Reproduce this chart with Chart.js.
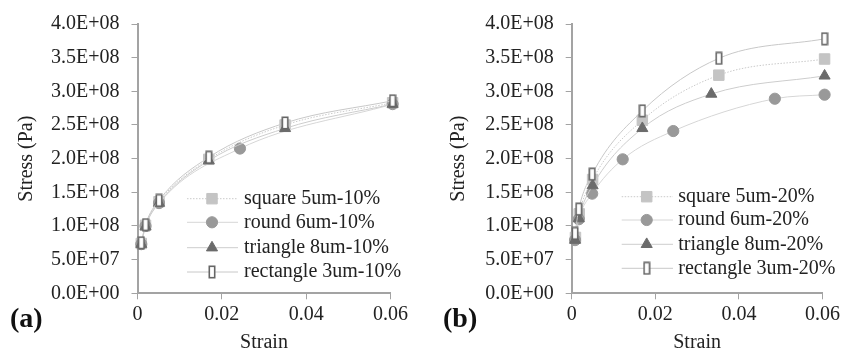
<!DOCTYPE html>
<html>
<head>
<meta charset="utf-8">
<script src="https://cdn.jsdelivr.net/npm/chart.js@4.4.1/dist/chart.umd.min.js"></script>
<style>
  html, body { margin: 0; padding: 0; background: #fff; }
  .panel { position: absolute; top: 0; }
</style>
</head>
<body>
<div class="panel" style="left:0;width:420px;height:356px"><canvas id="chartA" width="420" height="356"></canvas></div>
<div class="panel" style="left:420px;width:423px;height:356px"><canvas id="chartB" width="423" height="356"></canvas></div>
<script>
Chart.defaults.font.family = "'Liberation Serif', 'Times New Roman', serif";
Chart.defaults.font.size = 20;
Chart.defaults.color = '#222';

const X_TICKS = [0, 0.02, 0.04, 0.06];
const X_TICK_LABELS = ['0', '0.02', '0.04', '0.06'];
const Y_TICKS = [0, 5e7, 1e8, 1.5e8, 2e8, 2.5e8, 3e8, 3.5e8, 4e8];
const Y_TICK_LABELS = ['0.0E+00', '5.0E+07', '1.0E+08', '1.5E+08', '2.0E+08', '2.5E+08', '3.0E+08', '3.5E+08', '4.0E+08'];

// (a) 10% volume fraction
const SQUARE_A_X = [0.0009, 0.0019, 0.0051, 0.0169, 0.0350, 0.0605];
const SQUARE_A_Y = [7.4e7, 1.01e8, 1.36e8, 1.99e8, 2.50e8, 2.83e8];
const ROUND_A_X = [0.0009, 0.0019, 0.0051, 0.0243, 0.0605];
const ROUND_A_Y = [7.3e7, 1.00e8, 1.34e8, 2.15e8, 2.81e8];
const TRIANGLE_A_X = [0.0009, 0.0019, 0.0051, 0.0169, 0.0350, 0.0605];
const TRIANGLE_A_Y = [7.3e7, 0.99e8, 1.34e8, 1.97e8, 2.45e8, 2.81e8];
const RECT_A_X = [0.0009, 0.0019, 0.0051, 0.0169, 0.0350, 0.0605];
const RECT_A_Y = [7.5e7, 1.02e8, 1.38e8, 2.02e8, 2.53e8, 2.86e8];

// (b) 20% volume fraction
const SQUARE_B_X = [0.0009, 0.0018, 0.0050, 0.0169, 0.0352, 0.0605];
const SQUARE_B_Y = [8.3e7, 1.18e8, 1.69e8, 2.57e8, 3.24e8, 3.48e8];
const ROUND_B_X = [0.0008, 0.0017, 0.0049, 0.0122, 0.0243, 0.0486, 0.0605];
const ROUND_B_Y = [7.9e7, 1.10e8, 1.48e8, 1.99e8, 2.41e8, 2.89e8, 2.95e8];
const TRIANGLE_B_X = [0.0008, 0.0017, 0.0050, 0.0169, 0.0334, 0.0605];
const TRIANGLE_B_Y = [7.9e7, 1.11e8, 1.60e8, 2.45e8, 2.96e8, 3.23e8];
const RECT_B_X = [0.0008, 0.0017, 0.0049, 0.0169, 0.0352, 0.0605];
const RECT_B_Y = [8.9e7, 1.25e8, 1.77e8, 2.71e8, 3.49e8, 3.78e8];

// hollow narrow rectangle marker
const rectMark = document.createElement('canvas');
rectMark.width = 8; rectMark.height = 14;
(() => {
  const c = rectMark.getContext('2d');
  c.fillStyle = '#fff'; c.fillRect(1, 1, 6, 12);
  c.strokeStyle = '#666'; c.lineWidth = 1.6;
  c.strokeRect(1.3, 1.3, 5.4, 11.4);
})();

const STYLES = {
  square: { pointStyle: 'rect', pointRadius: 7.4, pointBackgroundColor: '#c4c4c4', pointBorderColor: '#c4c4c4',
    borderColor: '#cacaca', borderDash: [1.5, 1.5], order: 3 },
  round: { pointStyle: 'circle', pointRadius: 5.6, pointBackgroundColor: '#999', pointBorderColor: '#999',
    borderColor: '#d6d6d6', order: 2 },
  triangle: { pointStyle: 'triangle', pointRadius: 6.4, pointBackgroundColor: '#6b6b6b', pointBorderColor: '#6b6b6b',
    borderColor: '#cdcdcd', order: 1 },
  rect: { pointStyle: rectMark, pointRadius: 7, pointBackgroundColor: '#fff', pointBorderColor: '#666',
    borderColor: '#c8c8c8', order: 0 },
};

function series(label, xs, ys, kind) {
  return Object.assign({
    label, data: xs.map((x, i) => ({ x, y: ys[i] })),
    borderWidth: 1, pointBorderWidth: 1, cubicInterpolationMode: 'monotone',
    clip: false, showLine: true, fill: false,
  }, STYLES[kind]);
}

// legend drawn inside the plot, styled from each dataset
const innerLegend = {
  id: 'innerLegend',
  afterDraw(chart, args, o) {
    const ctx = chart.ctx;
    chart.data.datasets.forEach((ds, i) => {
      const y = o.rows[i];
      ctx.save();
      ctx.strokeStyle = ds.borderColor; ctx.lineWidth = 1;
      ctx.setLineDash(ds.borderDash || []);
      ctx.beginPath(); ctx.moveTo(o.lineFrom, y); ctx.lineTo(o.lineTo, y); ctx.stroke();
      ctx.setLineDash([]);
      ctx.fillStyle = ds.pointBackgroundColor; ctx.strokeStyle = ds.pointBorderColor;
      Chart.helpers.drawPoint(ctx, { pointStyle: ds.pointStyle, radius: ds.pointRadius, borderWidth: 1, rotation: 0 }, o.mark, y);
      ctx.fillStyle = '#222'; ctx.font = "20px 'Liberation Serif', serif";
      ctx.textBaseline = 'middle'; ctx.textAlign = 'left';
      ctx.fillText(ds.label, o.text, y);
      ctx.restore();
    });
    ctx.save();
    ctx.fillStyle = '#111'; ctx.font = "bold 28px 'Liberation Serif', serif";
    ctx.textBaseline = 'middle';
    ctx.fillText(o.panel, o.panelX, 320);
    ctx.restore();
  }
};

function makePanel(id, datasets, g) {
  const axisCol = '#a3a3a3';
  return new Chart(document.getElementById(id), {
    type: 'scatter',
    data: { datasets },
    plugins: [innerLegend],
    options: {
      responsive: false, animation: false,
      layout: { padding: { left: 0, top: g.top, right: g.right, bottom: 0 } },
      plugins: { legend: { display: false }, tooltip: { enabled: false }, innerLegend: g.legend },
      scales: {
        x: {
          type: 'linear', min: 0, max: 0.06,
          afterBuildTicks: s => { s.ticks = X_TICKS.map(v => ({ value: v })); },
          afterFit: s => { s.height = 62.7; },
          ticks: { callback: (v, i) => X_TICK_LABELS[i], padding: 3, maxRotation: 0, autoSkip: false },
          grid: { drawOnChartArea: false, tickLength: 6, color: axisCol, lineWidth: 1 },
          border: { color: axisCol, width: 2 },
          title: { display: true, text: 'Strain', padding: { top: 0, bottom: 1 } },
        },
        y: {
          min: 0, max: 4e8,
          afterBuildTicks: s => { s.ticks = Y_TICKS.map(v => ({ value: v })); },
          afterFit: s => { s.width = g.axisW; },
          ticks: { callback: (v, i) => Y_TICK_LABELS[i], padding: 12 },
          grid: { drawOnChartArea: false, tickLength: 6, color: axisCol, lineWidth: 1 },
          border: { color: axisCol, width: 2 },
          title: { display: true, text: 'Stress (Pa)', padding: { top: g.titlePad, bottom: 0 } },
        },
      },
    },
  });
}

makePanel('chartA', [
  series('square 5um-10%', SQUARE_A_X, SQUARE_A_Y, 'square'),
  series('round 6um-10%', ROUND_A_X, ROUND_A_Y, 'round'),
  series('triangle 8um-10%', TRIANGLE_A_X, TRIANGLE_A_Y, 'triangle'),
  series('rectangle 3um-10%', RECT_A_X, RECT_A_Y, 'rect'),
], { axisW: 137.5, top: 19, right: 29.5, titlePad: 15,
  legend: { rows: [198.7, 222.3, 247.7, 272], lineFrom: 187, lineTo: 238, mark: 212, text: 244, panel: '(a)', panelX: 10 } });

makePanel('chartB', [
  series('square 5um-20%', SQUARE_B_X, SQUARE_B_Y, 'square'),
  series('round 6um-20%', ROUND_B_X, ROUND_B_Y, 'round'),
  series('triangle 8um-20%', TRIANGLE_B_X, TRIANGLE_B_Y, 'triangle'),
  series('rectangle 3um-20%', RECT_B_X, RECT_B_Y, 'rect'),
], { axisW: 151.7, top: 16.7, right: 20.5, titlePad: 27,
  legend: { rows: [196.7, 220, 244.3, 268.3], lineFrom: 201.7, lineTo: 253, mark: 226.7, text: 258.3, panel: '(b)', panelX: 23 } });
</script>
</body>
</html>
